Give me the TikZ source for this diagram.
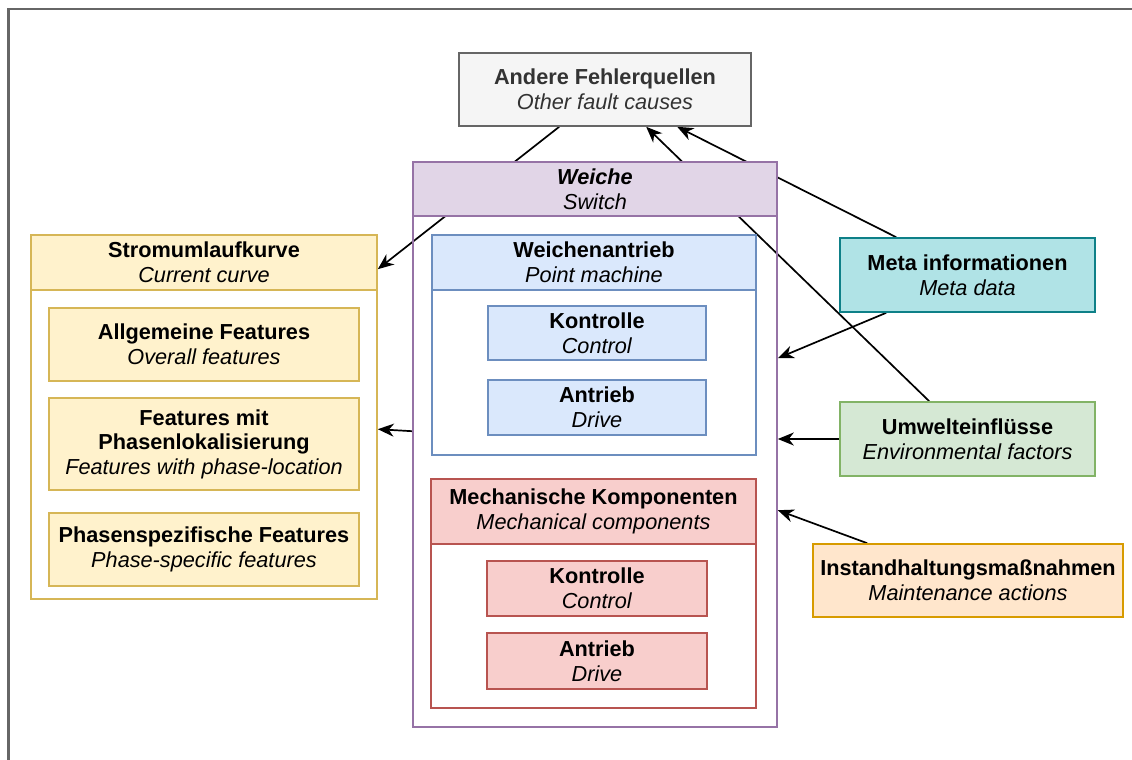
\documentclass[tikz,border=0pt]{standalone}
\usepackage{fontspec}
\setmainfont{Liberation Sans}
\usetikzlibrary{arrows.meta,backgrounds}

\begin{document}
\begin{tikzpicture}[x=0.5pt,y=-0.5pt,
  font=\fontsize{10.85}{12.3}\selectfont,
  box/.style={draw, line width=0.8pt, align=center, inner sep=0pt},
  lane/.style={draw, line width=0.8pt, inner sep=0pt},
  arr/.style={line width=0.85pt, -{Stealth[length=8pt,width=6.5pt,inset=2.5pt]}}]

% Farben (draw.io)
\definecolor{colGray}{HTML}{F5F5F5}
\definecolor{lineGray}{HTML}{666666}
\definecolor{textGray}{HTML}{333333}
\definecolor{colSwitch}{HTML}{E1D5E7}
\definecolor{colSwitchD}{HTML}{9673A6}
\definecolor{colBlue}{HTML}{DAE8FC}
\definecolor{colBlueD}{HTML}{6C8EBF}
\definecolor{colRed}{HTML}{F8CECC}
\definecolor{colRedD}{HTML}{B85450}
\definecolor{colYel}{HTML}{FFF2CC}
\definecolor{colYelD}{HTML}{D6B656}
\definecolor{colTeal}{HTML}{B0E3E6}
\definecolor{colTealD}{HTML}{0E8088}
\definecolor{colGreen}{HTML}{D5E8D4}
\definecolor{colGreenD}{HTML}{82B366}
\definecolor{colOrange}{HTML}{FFE6CC}
\definecolor{colOrangeD}{HTML}{D79B00}

\useasboundingbox (0,0) rectangle (1132,760);

% Rahmen (angeschnitten)
\draw[lineGray, line width=1.3pt] (1132,9) -- (8.5,9) -- (8.5,760);

% Andere Fehlerquellen
\node[box, fill=colGray, draw=lineGray, text=textGray, minimum width=146pt, minimum height=36.5pt]
  (andere) at (605,89.5) {\textbf{Andere Fehlerquellen}\\\textit{Other fault causes}};

% Weiche
\node[lane, draw=colSwitchD, minimum width=182pt, minimum height=282.5pt] (weiche) at (595,444.5) {};
\node[box, fill=colSwitch, draw=colSwitchD, minimum width=182pt, minimum height=27pt]
  (weicheKopf) at (595,189) {\textbf{\textit{Weiche}}\\\textit{Switch}};

% Weichenantrieb
\node[lane, draw=colBlueD, minimum width=162pt, minimum height=110pt] (antrieb) at (594,345) {};
\node[box, fill=colBlue, draw=colBlueD, minimum width=162pt, minimum height=27.5pt]
  (antriebKopf) at (594,262.5) {\textbf{Weichenantrieb}\\\textit{Point machine}};
\node[box, fill=colBlue, draw=colBlueD, minimum width=109pt, minimum height=27pt]
  (kontrolleA) at (597,333) {\textbf{Kontrolle}\\\textit{Control}};
\node[box, fill=colBlue, draw=colBlueD, minimum width=109pt, minimum height=27.5pt]
  (driveA) at (597,407.5) {\textbf{Antrieb}\\\textit{Drive}};

% Mechanische Komponenten
\node[lane, draw=colRedD, minimum width=162.5pt, minimum height=114.5pt] (mech) at (593.5,593.5) {};
\node[box, fill=colRed, draw=colRedD, minimum width=162.5pt, minimum height=32.5pt]
  (mechKopf) at (593.5,511.5) {\textbf{Mechanische Komponenten}\\\textit{Mechanical components}};
\node[box, fill=colRed, draw=colRedD, minimum width=110pt, minimum height=27.5pt]
  (kontrolleM) at (597,588.5) {\textbf{Kontrolle}\\\textit{Control}};
\node[box, fill=colRed, draw=colRedD, minimum width=110pt, minimum height=28pt]
  (driveM) at (597,661) {\textbf{Antrieb}\\\textit{Drive}};

% Stromumlaufkurve
\node[lane, fill=white, draw=colYelD, minimum width=173pt, minimum height=182pt] (strom) at (204,417) {};
\node[box, fill=colYel, draw=colYelD, minimum width=173pt, minimum height=27.5pt]
  (stromKopf) at (204,262.5) {\textbf{Stromumlaufkurve}\\\textit{Current curve}};
\node[box, fill=colYel, draw=colYelD, minimum width=155pt, minimum height=36.5pt]
  (allg) at (204,344.5) {\textbf{Allgemeine Features}\\\textit{Overall features}};
\node[box, fill=colYel, draw=colYelD, minimum width=155pt, minimum height=46pt]
  (phasLok) at (204,444) {\textbf{Features mit}\\\textbf{Phasenlokalisierung}\\\textit{Features with phase-location}};
\node[box, fill=colYel, draw=colYelD, minimum width=155pt, minimum height=36.5pt]
  (phasSpez) at (204,549.5) {\textbf{Phasenspezifische Features}\\\textit{Phase-specific features}};

% Einflussfaktoren rechts
\node[box, fill=colTeal, draw=colTealD, minimum width=127.5pt, minimum height=37pt]
  (meta) at (967.5,275) {\textbf{Meta informationen}\\\textit{Meta data}};
\node[box, fill=colGreen, draw=colGreenD, minimum width=127.5pt, minimum height=37pt]
  (umwelt) at (967.5,439) {\textbf{Umwelteinflüsse}\\\textit{Environmental factors}};
\node[box, fill=colOrange, draw=colOrangeD, minimum width=155pt, minimum height=36.5pt]
  (instand) at (968,580.5) {\textbf{Instandhaltungsmaßnahmen}\\\textit{Maintenance actions}};

% Verbindungen (hinter den Kopfzeilen)
\begin{scope}[on background layer]
\draw[arr] ([shift={(101,0)}]andere.south west) -- ([shift={(0,35)}]strom.north east);
\draw[arr] ([shift={(90,0)}]umwelt.north west) -- ([shift={(188,0)}]andere.south west);
\draw[arr] ([shift={(57,0)}]meta.north west) -- ([shift={(219,0)}]andere.south west);
\draw[arr] ([shift={(47,0)}]meta.south west) -- ([shift={(0,197)}]weiche.north east);
\draw[arr] (umwelt.west) -- (umwelt.west -| weiche.east);
\draw[arr] ([shift={(55,0)}]instand.north west) -- ([shift={(0,349)}]weiche.north east);
\draw[arr] ([shift={(0,270)}]weiche.north west) -- ([shift={(0,195)}]strom.north east);
\end{scope}

\end{tikzpicture}
\end{document}
